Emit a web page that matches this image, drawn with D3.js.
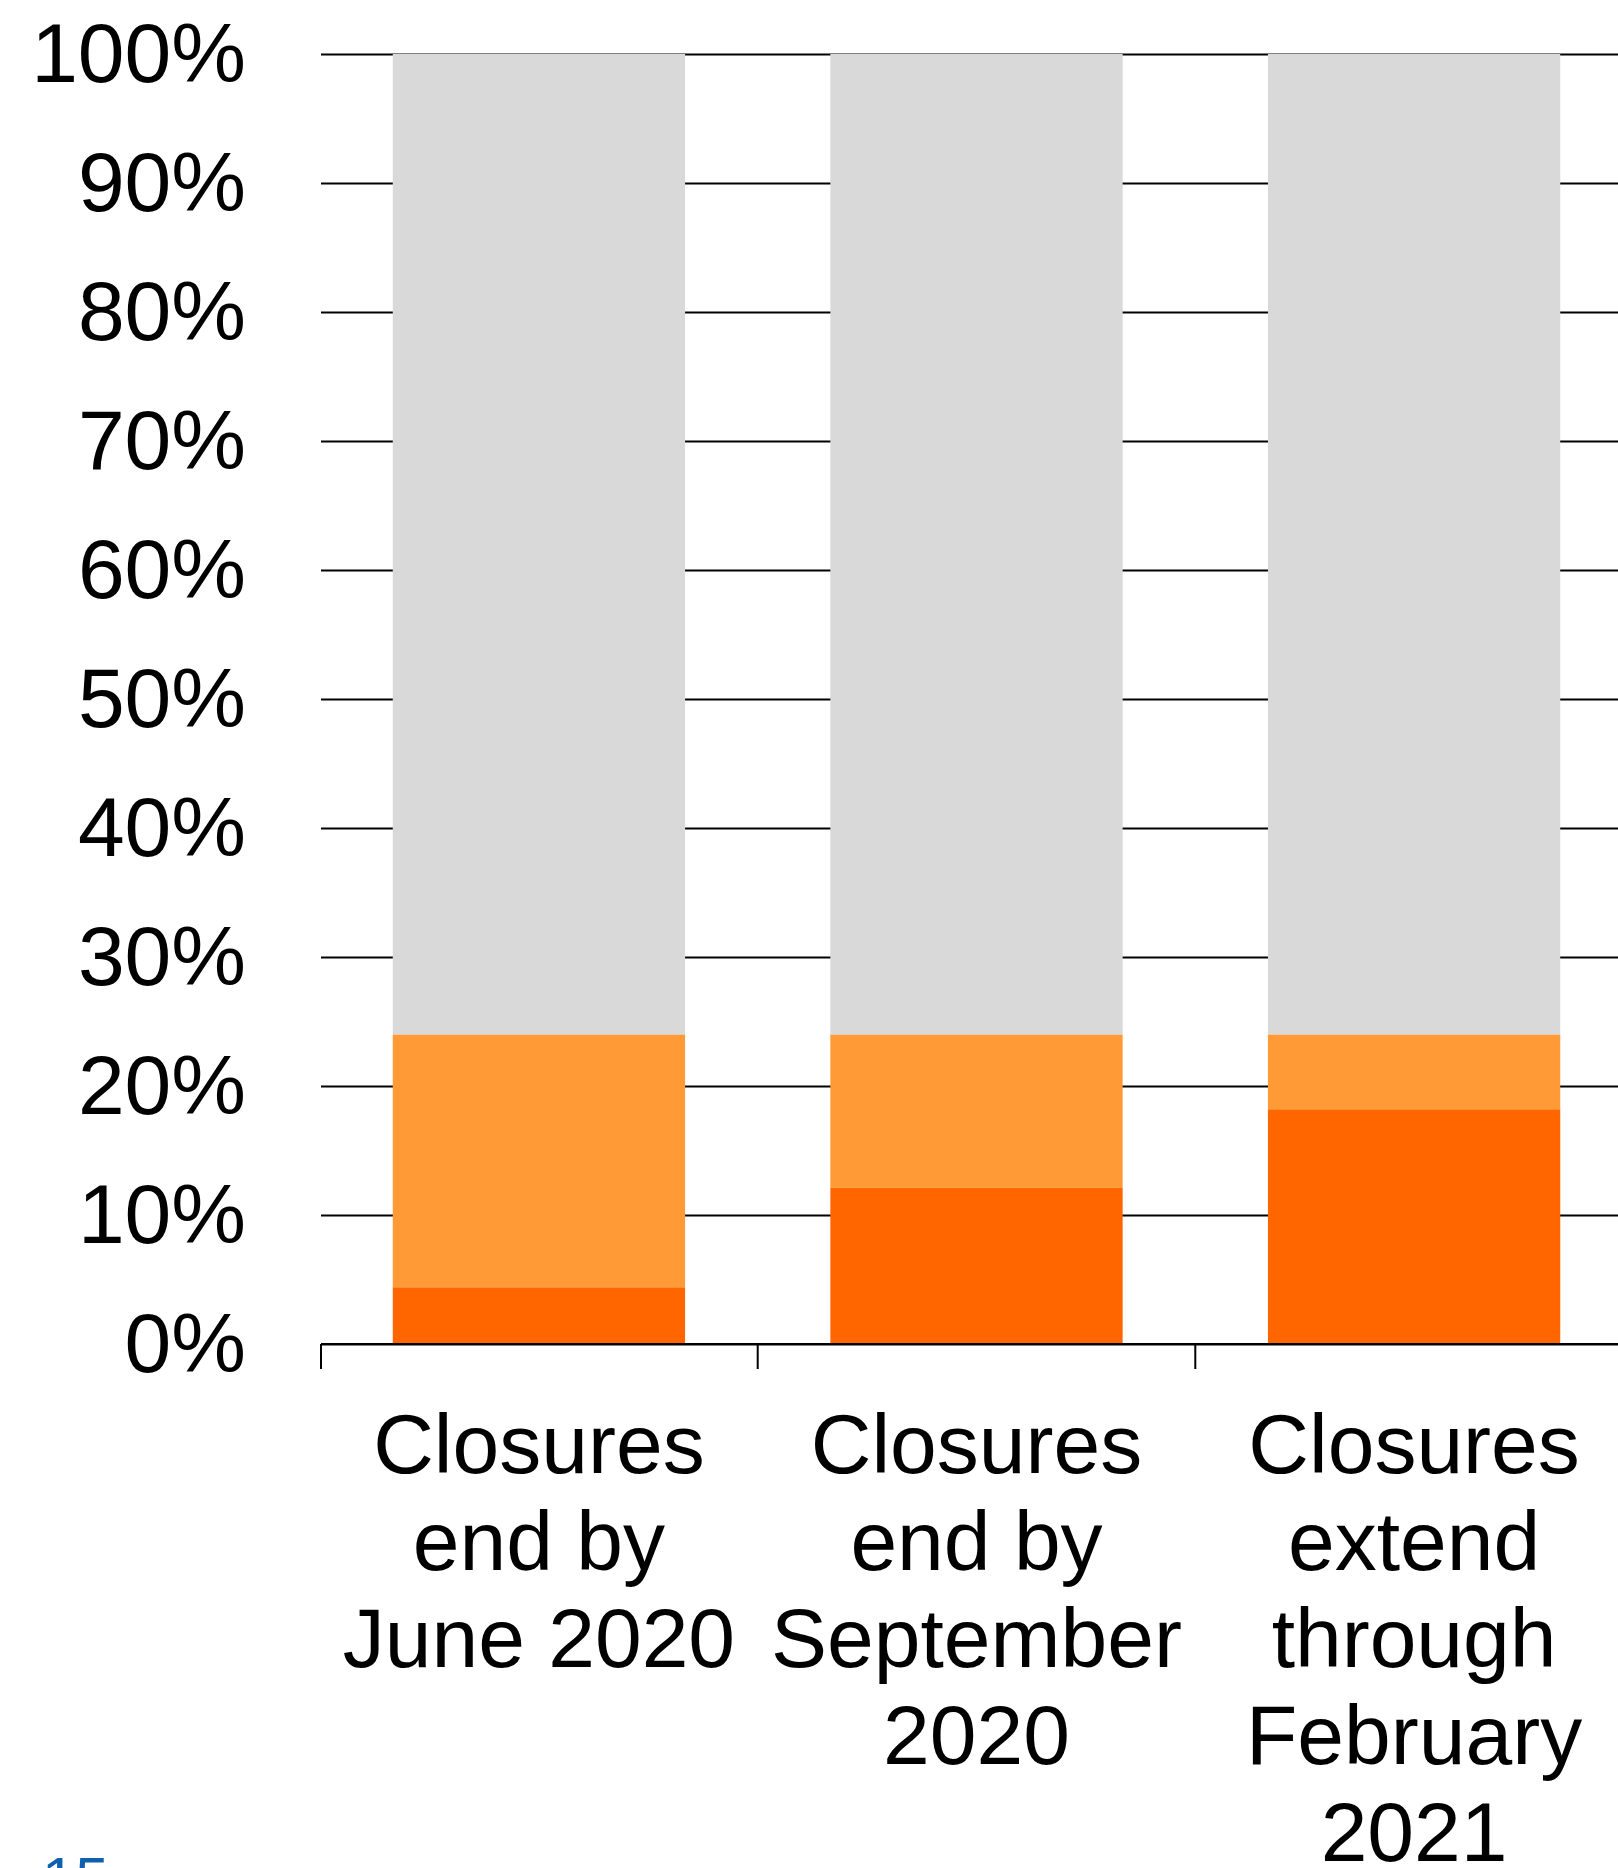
<!DOCTYPE html>
<html>
<head>
<meta charset="utf-8">
<script src="https://cdn.jsdelivr.net/npm/d3@7"></script>
<style>
  html, body { margin: 0; padding: 0; background: #fff; }
  svg { display: block; }
  text { font-family: "Liberation Sans", Arial, sans-serif; fill: #000; }
</style>
</head>
<body>
<svg id="chart" width="1618" height="1868"></svg>
<script>
// Scenario categories (label lines)
const categories = [
  ["Closures", "end by", "June 2020"],
  ["Closures", "end by", "September", "2020"],
  ["Closures", "extend", "through", "February", "2021"]
];
const categoryKeys = ["june2020", "sep2020", "feb2021"];

// Stacked shares, percent (bottom to top)
const darkShare  = [4.4, 12.1, 18.2];
const lightShare = [19.6, 11.9, 5.8];
const greyShare  = [76.0, 76.0, 76.0];

const seriesKeys = ["dark", "light", "grey"];
const seriesColors = ["#FF6600", "#FF9A36", "#D9D9D9"];

const yTicks = [0, 10, 20, 30, 40, 50, 60, 70, 80, 90, 100];
const pageNumber = "15";

const rows = categoryKeys.map((k, i) => ({
  key: k, dark: darkShare[i], light: lightShare[i], grey: greyShare[i]
}));

const svg = d3.select("#chart");
const plotLeft = 321, plotRight = 1632, plotTop = 54, plotBottom = 1344;

const x = d3.scaleBand()
  .domain(categoryKeys)
  .range([plotLeft, plotRight])
  .paddingInner(0.332)
  .paddingOuter(0.164);

const y = d3.scaleLinear().domain([0, 100]).range([plotBottom, plotTop]);

// Horizontal gridlines with percent labels
const yAxis = d3.axisLeft(y)
  .tickValues(yTicks)
  .tickFormat(d => d + "%")
  .tickSize(-(1618 - plotLeft))
  .tickPadding(75);

const gy = svg.append("g")
  .attr("transform", `translate(${plotLeft},0)`)
  .call(yAxis);
gy.select(".domain").remove();
gy.selectAll(".tick line").attr("stroke", "#000").attr("stroke-width", 1.8);
gy.selectAll(".tick text")
  .attr("font-size", 84)
  .attr("dy", "0.33em")
  .style("font-family", "'Liberation Sans', Arial, sans-serif")
  .attr("fill", "#000");

// Stacked bars
const stacked = d3.stack().keys(seriesKeys)(rows);
svg.append("g")
  .selectAll("g")
  .data(stacked)
  .join("g")
  .attr("fill", (d, i) => seriesColors[i])
  .selectAll("rect")
  .data(d => d)
  .join("rect")
  .attr("x", d => x(d.data.key))
  .attr("width", x.bandwidth())
  .attr("y", d => y(d[1]))
  .attr("height", d => y(d[0]) - y(d[1]));

// Category axis along the baseline, ticks at band boundaries
const half = x.step() * x.paddingInner() / 2;
const gx = svg.append("g");
gx.append("line")
  .attr("x1", plotLeft).attr("x2", 1618)
  .attr("y1", y(0)).attr("y2", y(0))
  .attr("stroke", "#000").attr("stroke-width", 2.2);
gx.selectAll("line.sep")
  .data(categoryKeys)
  .join("line")
  .attr("class", "sep")
  .attr("x1", (d, i) => i === 0 ? plotLeft : x(d) - half)
  .attr("x2", (d, i) => i === 0 ? plotLeft : x(d) - half)
  .attr("y1", y(0)).attr("y2", y(0) + 25)
  .attr("stroke", "#000").attr("stroke-width", 2);

// Category labels
const labels = svg.append("g").attr("text-anchor", "middle");
categoryKeys.forEach((k, i) => {
  const cx = x(k) + x.bandwidth() / 2;
  const t = labels.append("text")
    .attr("x", cx)
    .attr("y", 1473)
    .attr("font-size", 84);
  categories[i].forEach((line, j) => {
    t.append("tspan")
      .attr("x", cx)
      .attr("dy", j === 0 ? 0 : 97)
      .text(line);
  });
});

// Page number
svg.append("text")
  .attr("x", 42)
  .attr("y", 1899)
  .attr("font-size", 60)
  .style("fill", "#1060B0")
  .text(pageNumber);
</script>
</body>
</html>
